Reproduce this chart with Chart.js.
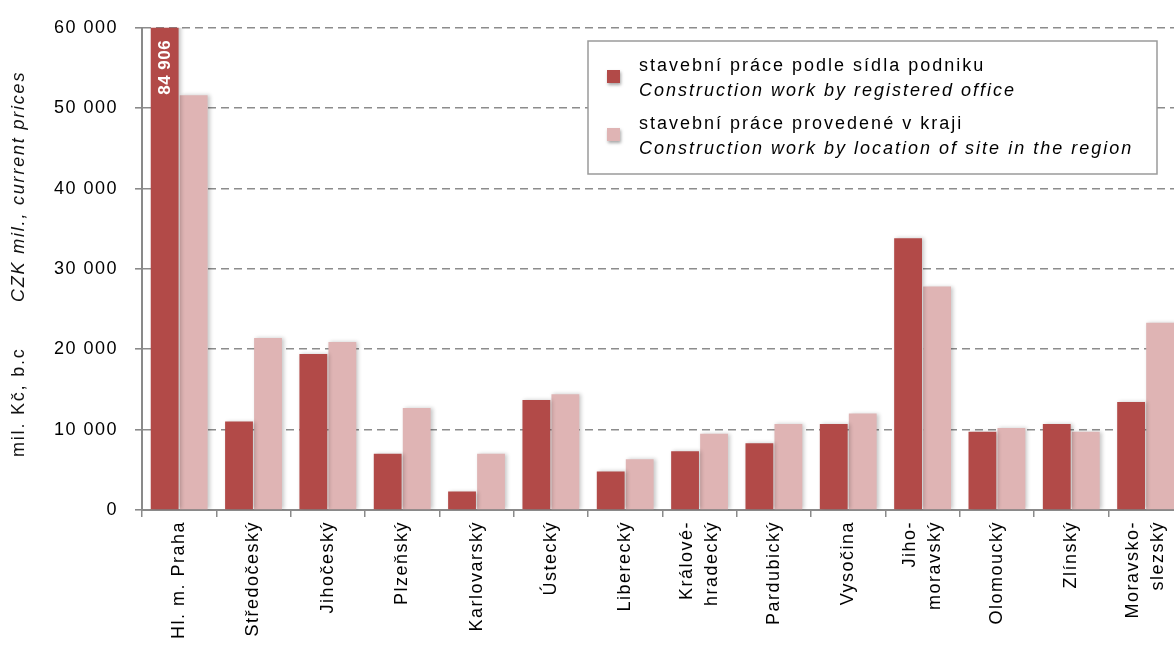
<!DOCTYPE html>
<html>
<head>
<meta charset="utf-8">
<script src="https://cdn.jsdelivr.net/npm/chart.js@4/dist/chart.umd.min.js"></script>
<style>
  html, body { margin: 0; padding: 0; background: #fff; overflow: hidden; }
</style>
</head>
<body>
<canvas id="kraje" width="1200" height="645"></canvas>
<script>
// regiony
var regions = [
    'Hl. m. Praha', 'Středočeský', 'Jihočeský', 'Plzeňský', 'Karlovarský', 'Ústecký',
    'Liberecký', ['Králové-', 'hradecký'], 'Pardubický', 'Vysočina',
    ['Jiho-', 'moravský'], 'Olomoucký', 'Zlínský', ['Moravsko-', 'slezský']
];
// mil. Kč
var byOffice = [84906, 11000, 19400, 7000, 2300, 13700, 4800, 7300, 8300, 10700, 33800, 9750, 10700, 13450];
var byLocation = [51600, 21400, 20900, 12700, 7000, 14400, 6300, 9500, 10700, 12000, 27800, 10200, 9750, 23300];
var legendCz = ['stavební práce podle sídla podniku', 'stavební práce provedené v kraji'];
var legendEn = ['Construction work by registered office', 'Construction work by location of site in the region'];
var yTitleCz = 'mil. Kč, b.c';
var yTitleEn = 'CZK mil., current prices';

var FONT = "'Liberation Sans', Arial, sans-serif";

function fmt(v) {
    return String(Math.round(v)).replace(/\B(?=(\d{3})+(?!\d))/g, ' ');
}

var spacing = {
    id: 'spacing',
    beforeUpdate: function (chart) { chart.ctx.letterSpacing = '1.5px'; },
    beforeDraw: function (chart) { chart.ctx.letterSpacing = '1.5px'; }
};

var shadow = {
    id: 'shadow',
    beforeDatasetsDraw: function (chart) {
        var ctx = chart.ctx;
        ctx.save();
        ctx.shadowColor = 'rgba(0,0,0,0.22)';
        ctx.shadowBlur = 4;
        ctx.shadowOffsetX = 2;
        ctx.shadowOffsetY = 0;
    },
    afterDatasetsDraw: function (chart) {
        chart.ctx.restore();
    }
};

// hodnota Prahy, ktera presahuje osu
var overflowLabel = {
    id: 'overflowLabel',
    afterDatasetsDraw: function (chart) {
        var ctx = chart.ctx;
        var yMax = chart.scales.y.max;
        var meta = chart.getDatasetMeta(0);
        meta.data.forEach(function (bar, i) {
            var v = byOffice[i];
            if (v <= yMax) return;
            ctx.save();
            ctx.translate(bar.x, chart.chartArea.top + 12);
            ctx.rotate(-Math.PI / 2);
            ctx.font = 'bold 17px ' + FONT;
            ctx.letterSpacing = '0.5px';
            ctx.fillStyle = '#fff';
            ctx.textAlign = 'right';
            ctx.textBaseline = 'middle';
            ctx.fillText(fmt(v), 0, 1);
            ctx.restore();
        });
    }
};

var yTitle = {
    id: 'yTitle',
    afterDraw: function (chart) {
        var ctx = chart.ctx;
        ctx.save();
        ctx.translate(19, 457);
        ctx.rotate(-Math.PI / 2);
        ctx.fillStyle = '#111';
        ctx.textBaseline = 'middle';
        ctx.textAlign = 'left';
        ctx.letterSpacing = '1.8px';
        ctx.font = '18px ' + FONT;
        ctx.fillText(yTitleCz, 0, 0);
        ctx.font = 'italic 18px ' + FONT;
        ctx.fillText(yTitleEn, 155, 0);
        ctx.restore();
    }
};

var boxLegend = {
    id: 'boxLegend',
    afterDraw: function (chart) {
        var ctx = chart.ctx;
        var x = 588, y = 41, w = 569, h = 133;
        ctx.save();
        ctx.fillStyle = '#fff';
        ctx.fillRect(x, y, w, h);
        ctx.strokeStyle = '#9a9a9a';
        ctx.lineWidth = 1.5;
        ctx.strokeRect(x, y, w, h);
        chart.data.datasets.forEach(function (ds, i) {
            var top = y + 26 + i * 58;
            ctx.save();
            ctx.shadowColor = 'rgba(0,0,0,0.35)';
            ctx.shadowBlur = 3;
            ctx.shadowOffsetX = 1;
            ctx.shadowOffsetY = 2;
            ctx.fillStyle = ds.backgroundColor;
            ctx.fillRect(607, top + 3, 13, 13);
            ctx.restore();
            ctx.fillStyle = '#000';
            ctx.textBaseline = 'middle';
            ctx.textAlign = 'left';
            ctx.letterSpacing = '2px';
            ctx.font = '18px ' + FONT;
            ctx.fillText(legendCz[i], 639, top - 1);
            ctx.font = 'italic 18px ' + FONT;
            ctx.fillText(legendEn[i], 639, top + 24);
        });
        ctx.restore();
    }
};

// dvouradkove popisky vycentrovat kolem stredu kategorie
function centerMultiline(scale) {
    if (scale._centered) return;
    scale._centered = true;
    var orig = scale._computeLabelItems;
    scale._computeLabelItems = function (area) {
        var items = orig.call(this, area);
        items.forEach(function (it) {
            if (Array.isArray(it.label) && it.label.length > 1) {
                it.textOffset -= (it.label.length - 1) * it.font.lineHeight / 2;
            }
        });
        return items;
    };
}

new Chart(document.getElementById('kraje'), {
    type: 'bar',
    data: {
        labels: regions,
        datasets: [{
            label: legendCz[0],
            data: byOffice,
            backgroundColor: '#b24a48',
            categoryPercentage: 0.78,
            barPercentage: 0.96
        }, {
            label: legendCz[1],
            data: byLocation,
            backgroundColor: '#dfb4b4',
            categoryPercentage: 0.78,
            barPercentage: 0.96
        }]
    },
    options: {
        responsive: false,
        animation: false,
        layout: { padding: { top: 24, left: 0, right: 0, bottom: 0 } },
        plugins: {
            legend: { display: false },
            tooltip: { enabled: false }
        },
        scales: {
            x: {
                afterFit: function (s) { s.height = 135; },
                afterUpdate: centerMultiline,
                grid: {
                    offset: true,
                    drawOnChartArea: false,
                    tickLength: 7,
                    color: '#8a8a8a',
                    lineWidth: 1.5
                },
                border: { color: '#8a8a8a', width: 2 },
                ticks: {
                    minRotation: 90,
                    maxRotation: 90,
                    autoSkip: false,
                    padding: 4,
                    color: '#000',
                    font: { family: FONT, size: 18, lineHeight: 1.4 }
                }
            },
            y: {
                min: 0,
                max: 60000,
                afterFit: function (s) { s.width = 142; },
                grid: {
                    color: function (c) { return c.tick && c.tick.value === 0 ? 'rgba(0,0,0,0)' : '#8c8c8c'; },
                    lineWidth: 1.6,
                    tickLength: 7,
                    tickColor: '#8a8a8a',
                    tickBorderDash: []
                },
                border: { color: '#8a8a8a', width: 2, dash: [8, 5] },
                ticks: {
                    stepSize: 10000,
                    padding: 17,
                    color: '#000',
                    font: { family: FONT, size: 18 },
                    callback: function (v) { return fmt(v); }
                }
            }
        }
    },
    plugins: [spacing, shadow, overflowLabel, yTitle, boxLegend]
});
</script>
</body>
</html>
